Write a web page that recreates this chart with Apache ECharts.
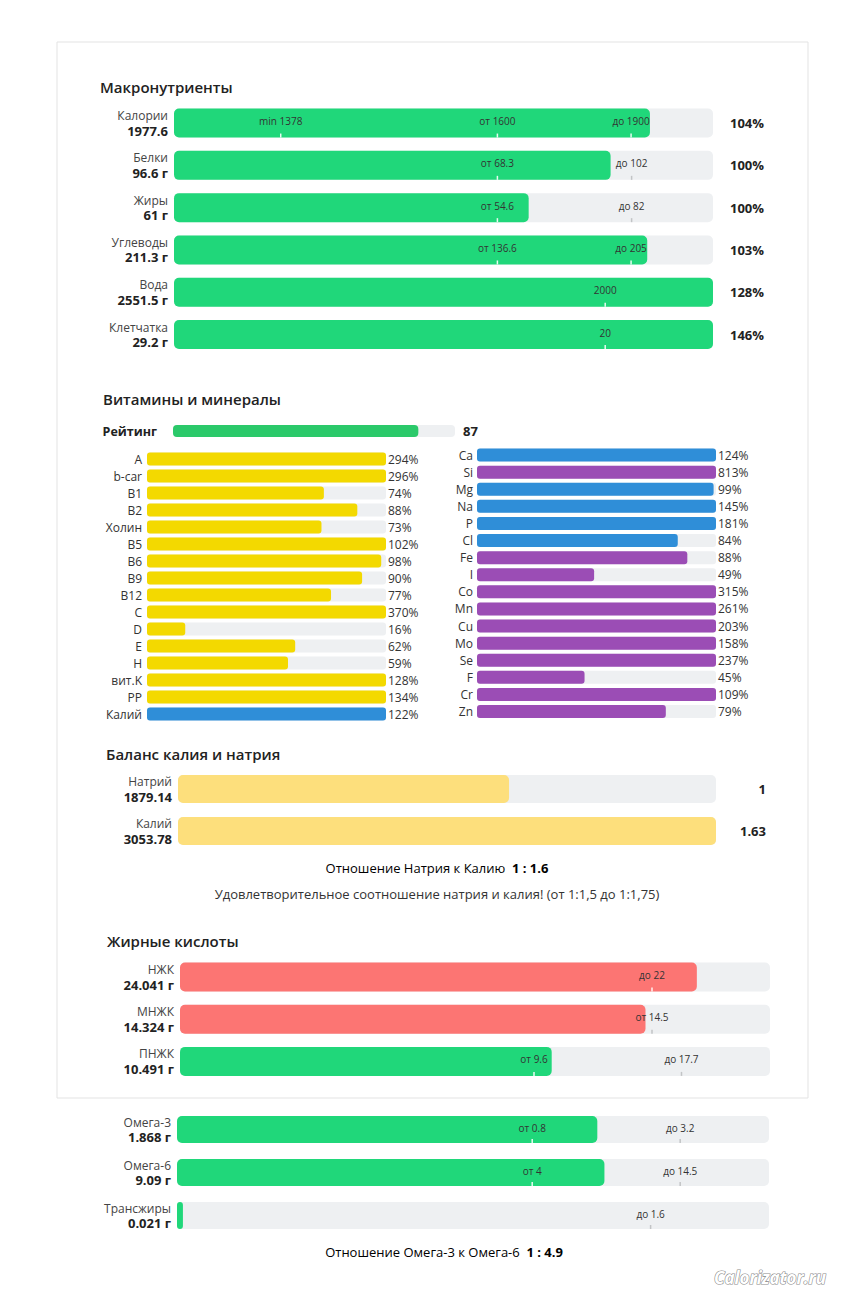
<!DOCTYPE html>
<html><head><meta charset="utf-8">
<script src="https://cdn.jsdelivr.net/npm/echarts@6/dist/echarts.min.js"></script>
<style>html,body{margin:0;padding:0;background:#fff}#c{width:860px;height:1297px}</style>
</head><body><div id="c"></div>
<script>
// ---------- DATA ----------
const macroNames = ['Калории','Белки','Жиры','Углеводы','Вода','Клетчатка'];
const macroAmounts = ['1977.6','96.6 г','61 г','211.3 г','2551.5 г','29.2 г'];
const macroPercents = ['104%','100%','100%','103%','128%','146%'];
const macroFill = [88.3, 81.0, 65.8, 87.8, 100, 100];           // % of track filled
const macroMarkers = [
  [0, 19.8, 'min 1378'], [0, 60, 'от 1600'], [0, 84.8, 'до 1900'],
  [1, 60, 'от 68.3'], [1, 84.9, 'до 102'],
  [2, 60, 'от 54.6'], [2, 84.9, 'до 82'],
  [3, 60, 'от 136.6'], [3, 84.8, 'до 205'],
  [4, 80, '2000'], [5, 80, '20']
];

const ratingLabel = 'Рейтинг';
const ratingValue = 87;

const vitNames = ['A','b-car','B1','B2','Холин','B5','B6','B9','B12','C','D','E','H','вит.K','PP','Калий'];
const vitPercents = [294,296,74,88,73,102,98,90,77,370,16,62,59,128,134,122];
const vitGroups = ['vit','vit','vit','vit','vit','vit','vit','vit','vit','vit','vit','vit','vit','vit','vit','macro'];

const minNames = ['Ca','Si','Mg','Na','P','Cl','Fe','I','Co','Mn','Cu','Mo','Se','F','Cr','Zn'];
const minPercents = [124,813,99,145,181,84,88,49,315,261,203,158,237,45,109,79];
const minGroups = ['macro','micro','macro','macro','macro','macro','micro','micro','micro','micro','micro','micro','micro','micro','micro','micro'];

const balanceNames = ['Натрий','Калий'];
const balanceValues = [1879.14, 3053.78];
const balanceRatios = ['1','1.63'];
const naKRatio = '1 : 1.6';
const naKVerdict = 'Удовлетворительное соотношение натрия и калия! (от 1:1,5 до 1:1,75)';

const fatNames = ['НЖК','МНЖК','ПНЖК'];
const fatAmounts = ['24.041 г','14.324 г','10.491 г'];
const fatFill = [87.6, 78.9, 63.0];
const fatStatus = ['over','over','ok'];
const fatMarkers = [[0, 80, 'до 22'], [1, 80, 'от 14.5'], [2, 60, 'от 9.6'], [2, 85, 'до 17.7']];

const omegaNames = ['Омега-3','Омега-6','Трансжиры'];
const omegaAmounts = ['1.868 г','9.09 г','0.021 г'];
const omegaFill = [71.0, 72.2, 1.0];
const omegaMarkers = [[0, 60, 'от 0.8'], [0, 85, 'до 3.2'], [1, 60, 'от 4'], [1, 85, 'до 14.5'], [2, 80, 'до 1.6']];
const omegaRatio = '1 : 4.9';

// ---------- STYLE ----------
const FONT = '"Open Sans", "Noto Sans", sans-serif';
const TRACK = '#eef0f2';
const GREEN = '#20d77a';
const COLORS = { vit: '#f3d900', macro: '#2f8ed8', micro: '#9b4db5', over: '#fc7573', ok: GREEN };

const grids = [], xAxes = [], yAxes = [], series = [];

function addGroup(g) {
  const gi = grids.length;
  const n = g.names.length;
  grids.push({ left: g.left, top: g.top, width: g.width, height: g.rowH * n });
  xAxes.push({ type: 'value', gridIndex: gi, min: 0, max: g.max, show: false });
  const yi = yAxes.length;
  yAxes.push({
    type: 'category', gridIndex: gi, data: g.names, inverse: true, position: 'left',
    axisLine: { show: false }, axisTick: { show: false }, splitLine: { show: false },
    axisLabel: Object.assign({ interval: 0, margin: g.leftMargin, fontFamily: FONT, color: '#333', fontSize: 12 }, g.leftLabel || {})
  });
  if (g.rightLabels) {
    yAxes.push({
      type: 'category', gridIndex: gi, data: g.rightLabels, inverse: true, position: 'right',
      axisLine: { show: false }, axisTick: { show: false }, splitLine: { show: false },
      axisLabel: Object.assign({ interval: 0, margin: g.rightMargin, fontFamily: FONT, color: '#333', fontSize: 12 }, g.rightLabel || {})
    });
  }
  series.push({
    type: 'bar', xAxisIndex: gi, yAxisIndex: yi, silent: true, animation: false,
    barWidth: g.barW, showBackground: true,
    backgroundStyle: { color: TRACK, borderRadius: g.radius },
    itemStyle: { borderRadius: g.radius },
    data: g.values.map((v, i) => ({ value: v, itemStyle: { color: g.colors[i] } }))
  });
  if (g.markers) {
    const marks = g.markers;
    series.push({
      type: 'custom', xAxisIndex: gi, yAxisIndex: yi, silent: true, animation: false, z: 5,
      data: marks.map(m => [m[1], m[0]]),
      renderItem: function (params, api) {
        const m = marks[params.dataIndex];
        const p = api.coord([api.value(0), api.value(1)]);
        const onBar = m[1] <= g.values[m[0]];
        const half = g.barW / 2;
        return {
          type: 'group',
          children: [
            { type: 'line', shape: { x1: p[0], y1: p[1] + half - 4, x2: p[0], y2: p[1] + half },
              style: { stroke: onBar ? 'rgba(255,255,255,0.9)' : '#c2c4c6', lineWidth: 1.5 } },
            { type: 'text', x: p[0], y: p[1] - 2,
              style: { text: m[2], fill: '#333', font: '10px ' + FONT, align: 'center', verticalAlign: 'middle' } }
          ]
        };
      }
    });
  }
}

const twoLineRich = {
  n: { fontSize: 12, color: '#444', align: 'right', lineHeight: 15, fontFamily: FONT },
  v: { fontSize: 13, fontWeight: 'bold', color: '#222', align: 'right', lineHeight: 15, fontFamily: FONT }
};
function twoLine(amounts) {
  return (val, idx) => '{n|' + val + '}\n{v|' + amounts[idx] + '}';
}

// Macronutrients
addGroup({
  names: macroNames, values: macroFill, max: 100, colors: macroFill.map(() => GREEN),
  left: 174, width: 539, top: 101.9, rowH: 42.3, barW: 29, radius: 5,
  leftMargin: 6, leftLabel: { formatter: twoLine(macroAmounts), rich: twoLineRich },
  rightLabels: macroPercents, rightMargin: 17, rightLabel: { fontSize: 13, fontWeight: 'bold', color: '#222' },
  markers: macroMarkers
});
// Rating
addGroup({
  names: [ratingLabel], values: [ratingValue], max: 100, colors: ['#2bc96a'],
  left: 173, width: 282, top: 424, rowH: 14, barW: 12, radius: 4,
  leftMargin: 16, leftLabel: { fontSize: 12.5, fontWeight: 'bold', color: '#222' },
  rightLabels: [String(ratingValue)], rightMargin: 8, rightLabel: { fontSize: 13, fontWeight: 'bold', color: '#222' }
});
// Vitamins
addGroup({
  names: vitNames, values: vitPercents.map(v => Math.min(v, 100)), max: 100,
  colors: vitGroups.map(k => COLORS[k]),
  left: 147, width: 239, top: 450.5, rowH: 17, barW: 13, radius: 3,
  leftMargin: 5, rightLabels: vitPercents.map(v => v + '%'), rightMargin: 2
});
// Minerals
addGroup({
  names: minNames, values: minPercents.map(v => Math.min(v, 100)), max: 100,
  colors: minGroups.map(k => COLORS[k]),
  left: 477, width: 239, top: 446.5, rowH: 17.1, barW: 13, radius: 3,
  leftMargin: 4, rightLabels: minPercents.map(v => v + '%'), rightMargin: 2
});
// Balance
addGroup({
  names: balanceNames, values: balanceValues, max: Math.max.apply(null, balanceValues),
  colors: balanceValues.map(() => '#fddf7c'),
  left: 178, width: 538, top: 768, rowH: 42, barW: 28, radius: 5,
  leftMargin: 6, leftLabel: { formatter: twoLine(balanceValues.map(String)), rich: twoLineRich },
  rightLabels: balanceRatios, rightMargin: 50, rightLabel: { align: 'right', fontSize: 13, fontWeight: 'bold', color: '#222' }
});
// Fatty acids
addGroup({
  names: fatNames, values: fatFill, max: 100, colors: fatStatus.map(k => COLORS[k]),
  left: 180, width: 590, top: 955.9, rowH: 42.2, barW: 29, radius: 5,
  leftMargin: 6, leftLabel: { formatter: twoLine(fatAmounts), rich: twoLineRich },
  markers: fatMarkers
});
// Omega
addGroup({
  names: omegaNames, values: omegaFill, max: 100, colors: omegaFill.map(() => GREEN),
  left: 177, width: 592, top: 1108, rowH: 43, barW: 27, radius: 5,
  leftMargin: 6, leftLabel: { formatter: twoLine(omegaAmounts), rich: twoLineRich },
  markers: omegaMarkers
});

function title(text, x, y) {
  return { type: 'text', x: x, y: y, style: { text: text, fill: '#222', font: '600 15px ' + FONT, verticalAlign: 'middle' } };
}
const ratioRich = {
  a: { fontSize: 13, color: '#333', fontFamily: FONT },
  b: { fontSize: 13, fontWeight: 'bold', color: '#222', fontFamily: FONT }
};

const graphic = [
  { type: 'rect', shape: { x: 57, y: 42, width: 751, height: 1056 }, style: { fill: 'none', stroke: '#e3e3e3', lineWidth: 1 }, silent: true },
  { type: 'line', shape: { x1: 58, y1: 1101, x2: 812, y2: 1101 }, style: { stroke: '#e6e6e6', lineWidth: 2, shadowBlur: 3, shadowColor: 'rgba(0,0,0,0.12)' }, silent: true },
  title('Макронутриенты', 100, 87),
  title('Витамины и минералы', 103, 399),
  title('Баланс калия и натрия', 106, 754),
  title('Жирные кислоты', 107, 941),
  { type: 'text', x: 437, y: 868, style: { text: '{a|Отношение Натрия к Калию}  {b|' + naKRatio + '}', rich: ratioRich, align: 'center', verticalAlign: 'middle' } },
  { type: 'text', x: 437, y: 894, style: { text: naKVerdict, fill: '#333', font: '13px ' + FONT, align: 'center', verticalAlign: 'middle' } },
  { type: 'text', x: 444, y: 1252, style: { text: '{a|Отношение Омега-3 к Омега-6}  {b|' + omegaRatio + '}', rich: ratioRich, align: 'center', verticalAlign: 'middle' } },
  { type: 'text', x: 770, y: 1277, style: { text: 'Calorizator.ru', fill: '#ffffff', font: 'italic bold 17px ' + FONT, align: 'center', verticalAlign: 'middle', stroke: '#8a8a8a', lineWidth: 1.2 } }
];

const chart = echarts.init(document.getElementById('c'), null, { renderer: 'svg', width: 860, height: 1297 });
chart.setOption({
  animation: false,
  backgroundColor: '#ffffff',
  textStyle: { fontFamily: FONT },
  grid: grids, xAxis: xAxes, yAxis: yAxes, series: series, graphic: graphic
});
</script>
</body></html>
